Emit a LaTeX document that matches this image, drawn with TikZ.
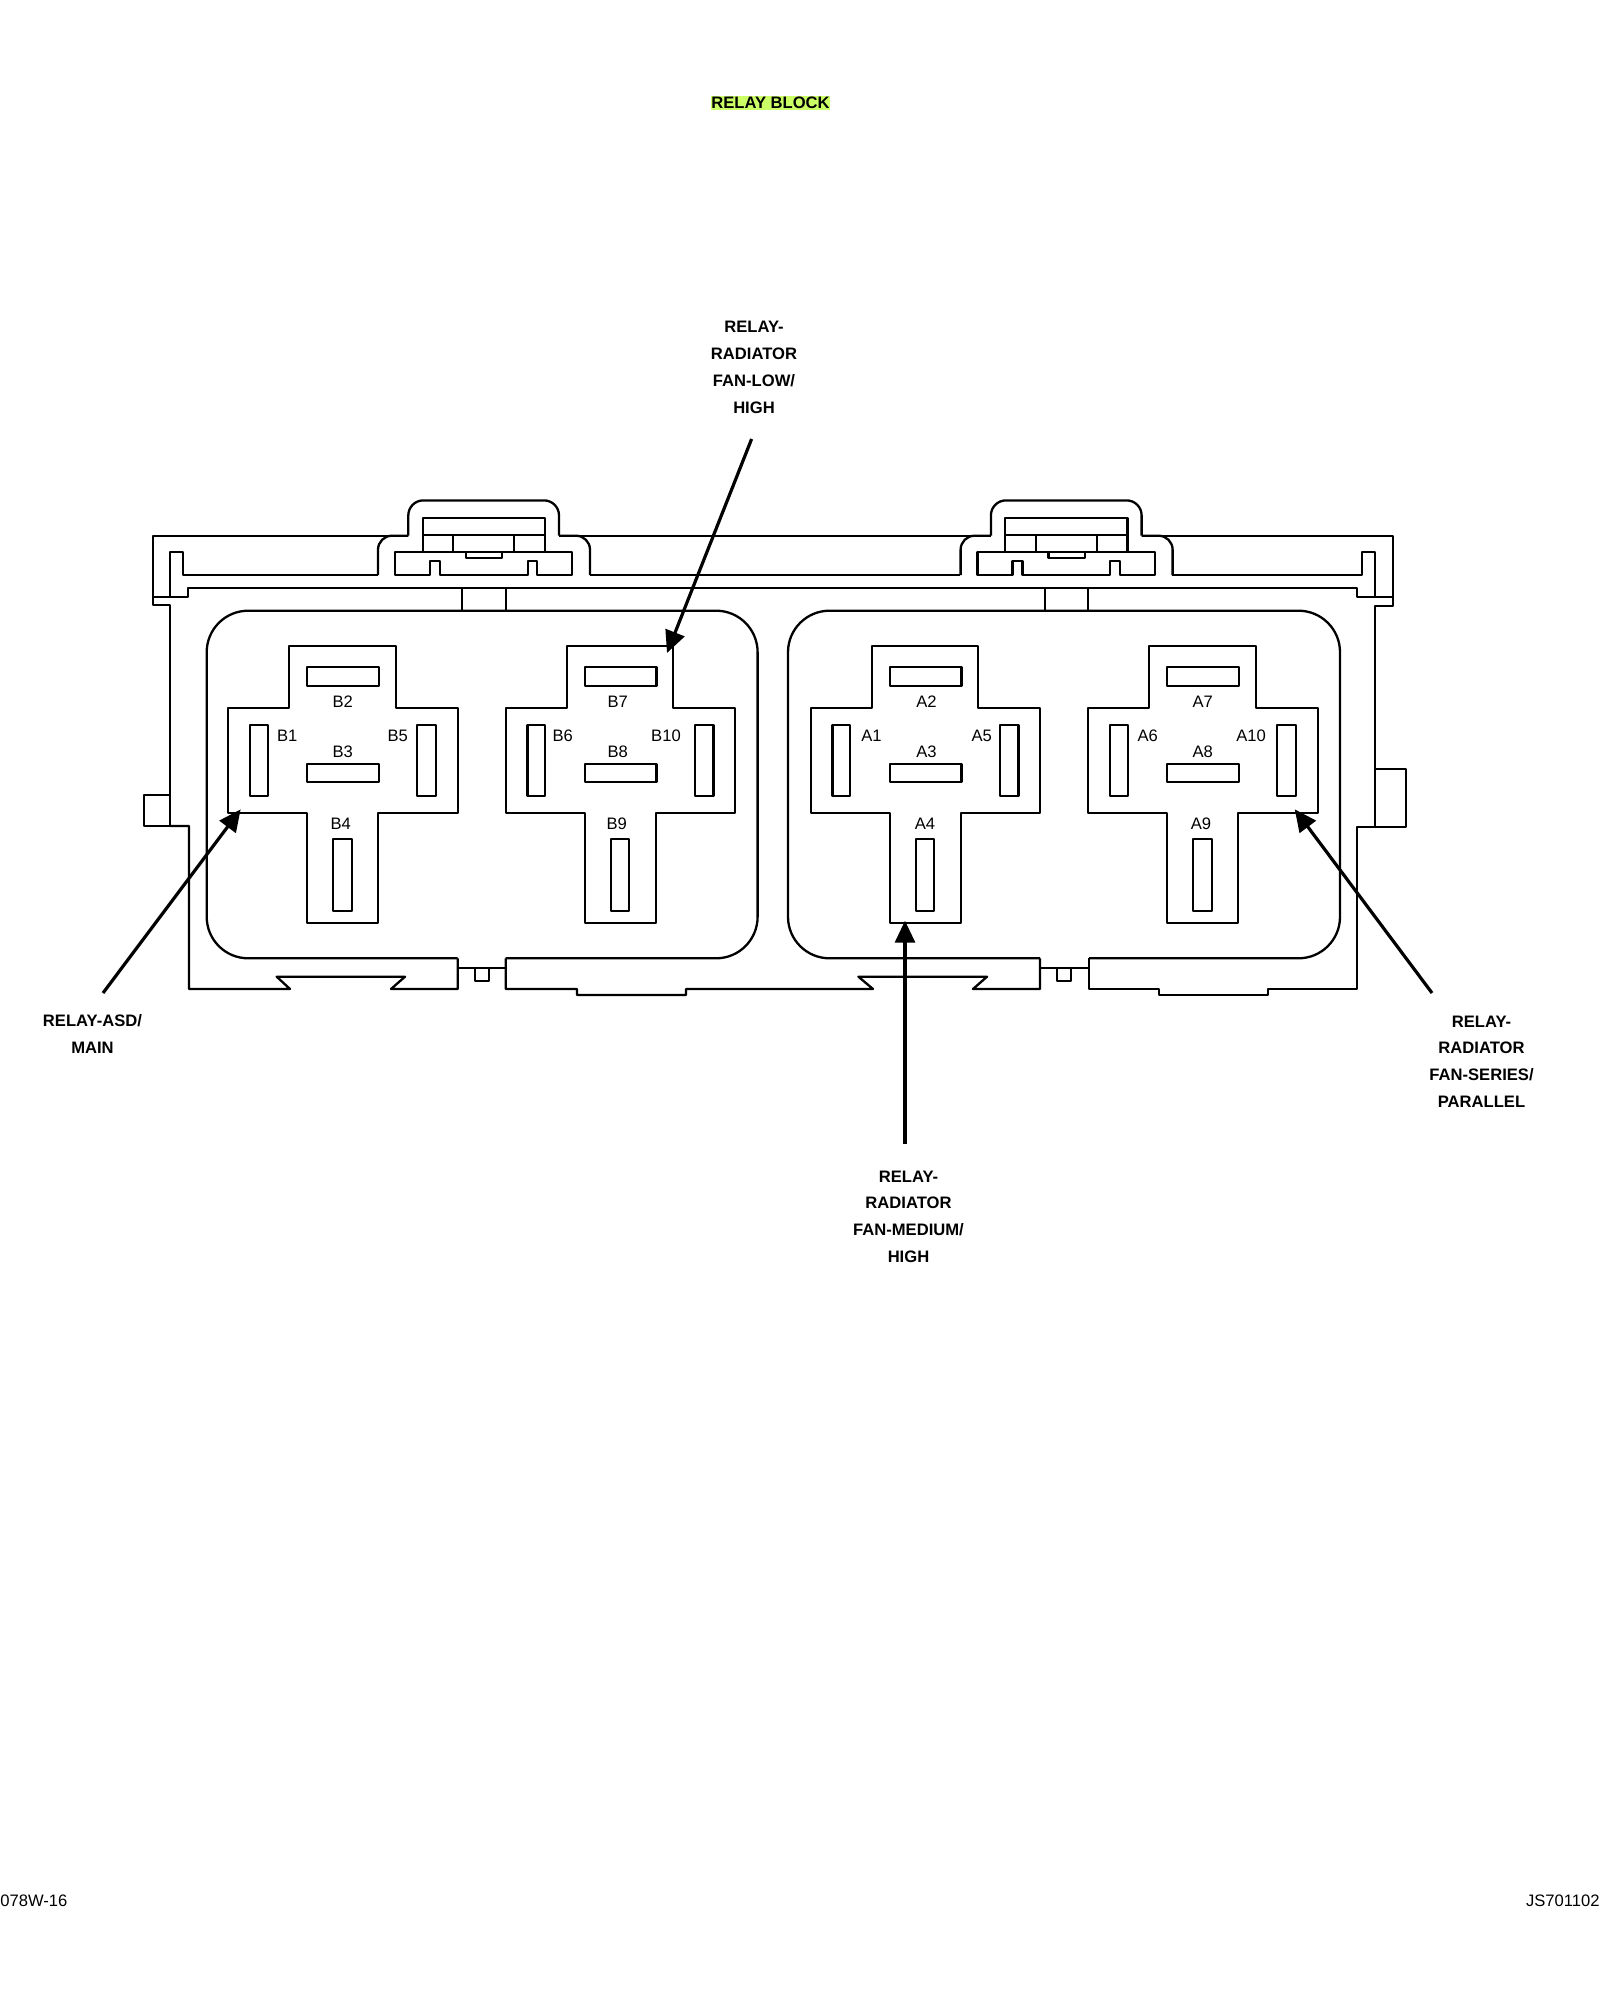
\documentclass[tikz,border=0pt]{standalone}
\usepackage{fontspec}
\usepackage{tikz}
\usetikzlibrary{arrows.meta}
\setmainfont{Liberation Sans}
\definecolor{titlegreen}{HTML}{CCFF66}

\begin{document}
\begin{tikzpicture}[x=0.5pt,y=-0.5pt,
        outline/.style={draw,line width=1.15pt,line join=round},
        pinlabel/.style={font=\fontsize{8.3}{10}\selectfont,inner sep=0pt},
        relaylabel/.style={font=\fontsize{8.3}{13.4}\selectfont\bfseries,align=center,inner sep=0pt},
        footlabel/.style={font=\fontsize{8.3}{10}\selectfont,inner sep=0pt},
        callout/.style={line width=1.6pt,-{Triangle[length=11pt,width=10pt]}}]

    \useasboundingbox (0,0) rectangle (1600,2000);

    \node (title) [font=\fontsize{8.3}{10}\selectfont\bfseries,fill=titlegreen,inner sep=0pt,
        text height=6.3pt,text depth=0.7pt] at (770.5,103) {RELAY BLOCK};

    % housing
    \draw[outline] (392,535.7) -- (153.3,535.7) -- (153.3,605) -- (170,605) -- (170,826)
        -- (144,826) -- (144,795) -- (170,795);
    \draw[outline] (170,826) -- (189,826) -- (189,989) -- (290,989) -- (276.7,976.7) -- (405,976.7)
        -- (391,989) -- (457.7,989) -- (457.7,958.3);
    \draw[outline] (505.7,958.3) -- (505.7,989) -- (577,989) -- (577,995) -- (686,995) -- (686,989)
        -- (873,989) -- (858.4,976.7) -- (987,976.7) -- (973,989) -- (1040,989) -- (1040,958.3);
    \draw[outline] (1089,958.3) -- (1089,989) -- (1159,989) -- (1159,995) -- (1268,995) -- (1268,989)
        -- (1356.7,989) -- (1356.7,826.7) -- (1375,826.7) -- (1405.7,826.7) -- (1405.7,769.3) -- (1375,769.3);
    \draw[outline] (1375,826.7) -- (1375,606) -- (1392.7,606) -- (1392.7,535.7) -- (1163,535.7);
    \draw[outline] (578,535.7) -- (972,535.7);
    % inner band and slots
    \draw[outline] (153.3,597) -- (188,597) -- (188,588.3) -- (1356.7,588.3) -- (1356.7,597) -- (1392.7,597);
    \draw[outline] (170,597) -- (170,552) -- (183,552) -- (183,575) -- (378,575);
    \draw[outline] (590,575) -- (960,575);
    \draw[outline] (1172,575) -- (1361.7,575) -- (1361.7,552) -- (1375,552) -- (1375,597);

    % relay bays
    \draw[outline,rounded corners=20.75pt] (457.7,958.3) -- (206.7,958.3) -- (206.7,610.7)
        -- (757.6,610.7) -- (757.6,958.3) -- (505.7,958.3);
    \draw[outline,rounded corners=20.75pt] (1040,958.3) -- (788,958.3) -- (788,610.7)
        -- (1340,610.7) -- (1340,958.3) -- (1089,958.3);
    \draw[outline] (457.7,967.7) -- (505.7,967.7);
    \draw[outline] (1040,967.7) -- (1089,967.7);
    \draw[outline] (475.3,967.7) -- (475.3,980.7) -- (489.3,980.7) -- (489.3,967.7);
    \draw[outline] (1057,967.7) -- (1057,980.7) -- (1071,980.7) -- (1071,967.7);

    % clips on top
    \foreach \ox in {0,582.6} {
        \begin{scope}[shift={(\ox,0)}]
            \draw[outline,rounded corners=7pt] (378,575) -- (378,535.7) -- (408.3,535.7);
            \draw[outline,rounded corners=7.5pt] (408.3,535.7) -- (408.3,500.4) -- (559,500.4) -- (559,535.7);
            \draw[outline,rounded corners=7pt] (559,535.7) -- (590,535.7) -- (590,575);
            \draw[outline] (422.7,552.3) rectangle (545,517.7);
            \draw[outline] (422.7,535) -- (545,535);
            \draw[outline] (453.3,535) -- (453.3,552.3);
            \draw[outline] (514.3,535) -- (514.3,552.3);
            \draw[outline] (395,552.3) -- (572.3,552.3) -- (572.3,575) -- (537.3,575) -- (537.3,561) -- (527.7,561)
                -- (527.7,575) -- (440,575) -- (440,561) -- (430,561) -- (430,575) -- (395,575) -- cycle;
            \draw[outline] (466,552.3) -- (466,558.3) -- (502.3,558.3) -- (502.3,552.3);
        \end{scope}
    }
    \foreach \ox in {461.7,505.7,1045,1088.3}
        \draw[outline] (\ox,588.3) -- (\ox,610.7);

    % relay cavities
    \foreach \ox in {0,277.4,582.6,860} {
        \begin{scope}[shift={(\ox,0)}]
            \draw[outline] (289.3,645.7) -- (395.7,645.7) -- (395.7,707.7) -- (457.7,707.7) -- (457.7,812.7)
                -- (378.3,812.7) -- (378.3,923.3) -- (307.3,923.3) -- (307.3,812.7) -- (228.3,812.7)
                -- (228.3,707.7) -- (289.3,707.7) -- cycle;
            \draw[outline] (307.3,667.3) rectangle (379,685.7);
            \draw[outline] (307.3,764.3) rectangle (379,782.3);
            \draw[outline] (250,725) rectangle (267.7,795.7);
            \draw[outline] (417.3,725) rectangle (436,795.7);
            \draw[outline] (333.3,839.3) rectangle (351.7,910.7);
        \end{scope}
    }

    \foreach \pin/\px/\py in {B1/287.3/735.5,B2/342.7/702.2,B3/342.7/751.5,B4/340.7/823.3,B5/397.7/735.5,
            B6/562.7/735.5,B7/617.7/702.2,B8/617.7/751.5,B9/616.7/823.3,B10/666/735.5,
            A1/871.5/735.5,A2/926.4/702.2,A3/926.4/751.5,A4/925/823.3,A5/981.7/735.5,
            A6/1147.7/735.5,A7/1202.7/702.2,A8/1202.7/751.5,A9/1201/823.3,A10/1251/735.5}
        \node (\pin) [pinlabel] at (\px,\py) {\pin};

    \node (lowhigh) [relaylabel] at (754,367.5) {RELAY-\\RADIATOR\\FAN-LOW/\\HIGH};
    \node (asdmain) [relaylabel] at (92.5,1034) {RELAY-ASD/\\MAIN};
    \node (medhigh) [relaylabel] at (908.5,1216.6) {RELAY-\\RADIATOR\\FAN-MEDIUM/\\HIGH};
    \node (series) [relaylabel] at (1481.5,1061.5) {RELAY-\\RADIATOR\\FAN-SERIES/\\PARALLEL};

    \coordinate (lowhighfrom) at (751.6,439);
    \coordinate (lowhighto) at (667,653);
    \coordinate (asdfrom) at (103,993);
    \coordinate (asdto) at (240.7,809.3);
    \coordinate (medfrom) at (905,1144);
    \coordinate (medto) at (905,920.7);
    \coordinate (seriesfrom) at (1432,993);
    \coordinate (seriesto) at (1294.7,809.3);
    \draw[callout] (lowhighfrom) -- (lowhighto);
    \draw[callout] (asdfrom) -- (asdto);
    \draw[callout] (medfrom) -- (medto);
    \draw[callout] (seriesfrom) -- (seriesto);

    \node (drawno) [footlabel,anchor=west] at (0,1901) {078W-16};
    \node (figno) [footlabel,anchor=east] at (1600,1901) {JS701102};
\end{tikzpicture}
\end{document}
